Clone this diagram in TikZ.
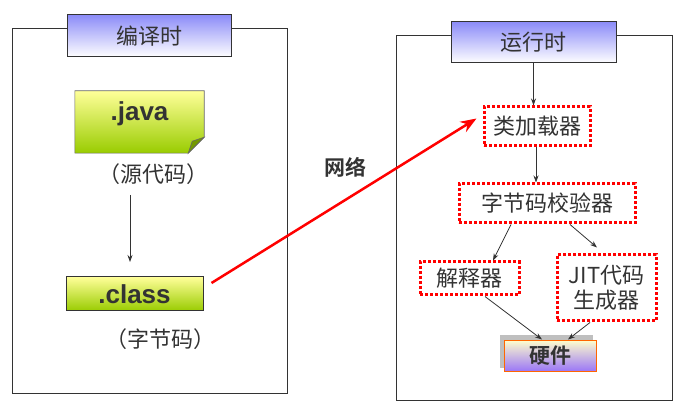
\documentclass[tikz,border=0pt]{standalone}
\usepackage{fontspec}
\setmainfont{Noto Sans CJK SC}[BoldFont={Noto Sans CJK SC Bold}]
\newfontfamily\latinb{Liberation Sans}[Scale=1]
\usetikzlibrary{arrows.meta,calc}
\definecolor{txt}{HTML}{333333}
\definecolor{titletop}{HTML}{8C8CF8}
\definecolor{noteY}{HTML}{FFFF99}
\definecolor{noteG}{HTML}{99CC00}
\definecolor{hwtop}{HTML}{FFFFCC}
\definecolor{hwbot}{HTML}{9B77F7}
\definecolor{hwedge}{HTML}{FF6600}
\tikzset{
  frame/.style={draw=txt,line width=1pt,inner sep=0pt},
  titlebox/.style={draw=txt,line width=1pt,top color=titletop,bottom color=white,inner sep=0pt,text=txt,font=\fontsize{22}{24}\selectfont},
  notebox/.style={inner sep=0pt,text=txt,font=\latinb\bfseries\fontsize{26}{28}\selectfont},
  plain/.style={text=txt,font=\fontsize{22}{24}\selectfont,inner sep=0pt},
  redbox/.style={draw=red,line width=3pt,dash pattern=on 3pt off 2pt,inner sep=0pt,text=txt,font=\fontsize{22}{25}\selectfont,align=center},
  arr/.style={draw=txt,line width=0.8pt,-{Stealth[length=7pt,width=5pt]}},
}
\begin{document}
\begin{tikzpicture}[x=1pt,y=-1pt]
\useasboundingbox (0,0) rectangle (688,403);
% frames
\node[frame,minimum width=275pt,minimum height=364pt] (frameL) at (149.5,211) {};
\node[frame,minimum width=276pt,minimum height=364pt] (frameR) at (534,218) {};
% titles
\node[titlebox,minimum width=164pt,minimum height=42pt] (titleL) at (149,36) {编译时};
\node[titlebox,minimum width=165pt,minimum height=41pt] (titleR) at (533.5,42.5) {运行时};
% .java note
\node[notebox,minimum width=129pt,minimum height=62pt] (java) at (139.5,122) {};
\shade[top color=noteY,bottom color=noteG,draw=black!60,line width=0.6pt]
  (java.north west) -- (java.north east) -- ([yshift=16pt]java.south east)
  -- ([xshift=-16pt]java.south east) -- (java.south west) -- cycle;
\fill[noteG!75!black,draw=black!60,line width=0.6pt]
  ([yshift=16pt]java.south east) -- ([xshift=-16pt]java.south east)
  -- ([xshift=-12pt,yshift=12pt]java.south east) -- cycle;
\node[notebox,anchor=center] (javatxt) at ([yshift=8pt]java.center) {.java};
\node[plain] (src) at (153,174) {（源代码）};
% .class
\node[notebox,top color=noteY,bottom color=noteG,draw=txt,line width=1pt,minimum width=137pt,minimum height=34pt] (class) at (134.5,294) {.class};
\node[plain] (bc) at (160,339) {（字节码）};
\coordinate (a1) at (130,195);
\coordinate (a2) at (130,262);
\draw[arr] (a1) -- (a2);
% network
\node[plain,font=\bfseries\fontsize{21}{23}\selectfont] (net) at (345,167) {网络};
% right side
\node[redbox,minimum width=106pt,minimum height=39pt] (loader) at (537,126.5) {类加载器};
\node[redbox,minimum width=176pt,minimum height=39pt] (verifier) at (547,203.5) {字节码校验器};
\node[redbox,minimum width=99pt,minimum height=33pt] (interp) at (469.5,278.5) {解释器};
\node[redbox,minimum width=99pt,minimum height=66pt] (jit) at (606.5,288) {JIT代码\\生成器};
% hardware
\fill[black!25] (500,335) rectangle (593,368);
\node[draw=hwedge,line width=1pt,top color=hwtop,bottom color=hwbot,inner sep=0pt,minimum width=92pt,minimum height=31pt,text=txt,font=\bfseries\fontsize{21}{23}\selectfont] (hw) at (550,355.5) {硬件};
% connectors
\draw[arr] (titleR.south) -- (titleR.south |- loader.north);
\draw[arr] ([xshift=-1pt]loader.south) -- ([xshift=-1pt]loader.south |- verifier.north);
\draw[arr] ([xshift=-36pt]verifier.south) -- ([xshift=23.5pt]interp.north);
\draw[arr] ([xshift=23pt]verifier.south) -- ([xshift=-9.5pt,yshift=6pt]jit.north);
\draw[arr] ([xshift=15.5pt]interp.south) -- ([xshift=-8pt]hw.north);
\draw[arr] ([xshift=-16.5pt]jit.south) -- ([xshift=18pt]hw.north);
\draw[red,line width=2.5pt,-{Stealth[length=16pt,width=12pt]}] ([xshift=8pt,yshift=11pt]class.east) -- ([xshift=-6pt,yshift=8pt]loader.west);
\end{tikzpicture}
\end{document}
